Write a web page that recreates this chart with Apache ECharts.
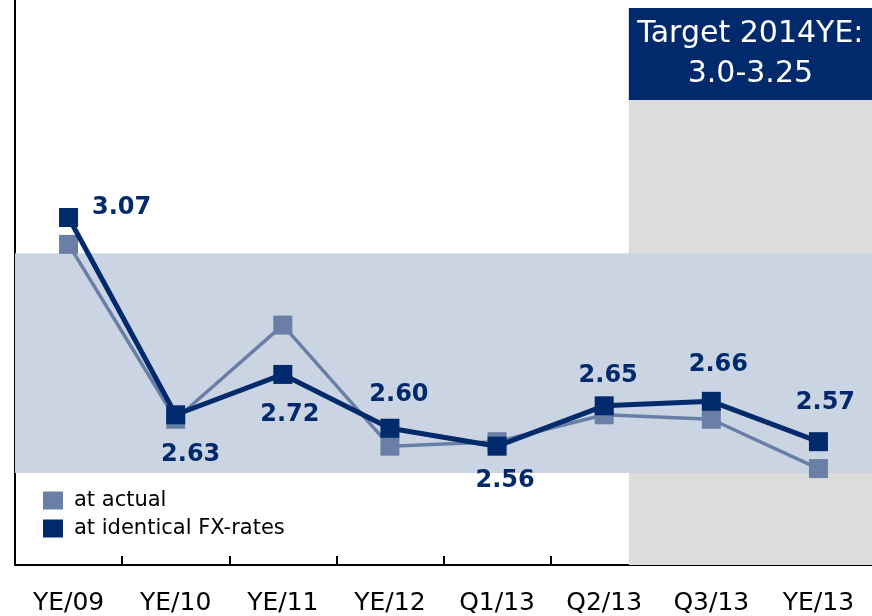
<!DOCTYPE html>
<html>
<head>
<meta charset="utf-8">
<script src="https://cdn.jsdelivr.net/npm/echarts@6/dist/echarts.min.js"></script>
<style>
  html, body { margin: 0; padding: 0; background: #fff; }
  #chart { width: 872px; height: 616px; }
</style>
</head>
<body>
<div id="chart"></div>
<script>
var categories = ['YE/09', 'YE/10', 'YE/11', 'YE/12', 'Q1/13', 'Q2/13', 'Q3/13', 'YE/13'];
var actualValues = [3.01, 2.62, 2.83, 2.56, 2.57, 2.63, 2.62, 2.51];
var fxValues = [3.07, 2.63, 2.72, 2.60, 2.56, 2.65, 2.66, 2.57];
var targetBand = [2.5, 2.99];
var targetText = 'Target 2014YE:\n3.0-3.25';

var DARK = '#002a6b';
var LIGHT = '#6a7fa6';
var FONT = 'DejaVu Sans';

// label placement per point, [dx, dy] from the marker centre
var labelOffsets = [[53, -10], [15, 40], [7, 40], [9, -33], [8, 35], [4, -30], [7, -37], [7, -39]];

var chart = echarts.init(document.getElementById('chart'));

var option = {
  animation: false,
  grid: { left: 15, right: 0, top: 0, bottom: 50 },
  legend: {
    orient: 'vertical',
    left: 38,
    top: 485,
    icon: 'rect',
    itemWidth: 20,
    itemHeight: 18,
    itemGap: 7,
    textStyle: { fontFamily: FONT, fontSize: 21, color: '#000', padding: [0, 0, 0, 6] },
    data: ['at actual', 'at identical FX-rates']
  },
  xAxis: [{
    type: 'category',
    data: categories,
    boundaryGap: true,
    axisLine: { lineStyle: { color: '#000', width: 2 } },
    axisTick: { show: true, inside: true, length: 9, interval: 0, lineStyle: { color: '#000', width: 2 } },
    axisLabel: { fontFamily: FONT, fontSize: 25, color: '#000', margin: 26, interval: 0 },
    splitLine: { show: false }
  }, {
    type: 'value',
    min: -0.5,
    max: 7.5,
    show: false
  }],
  yAxis: {
    type: 'value',
    min: 2.295,
    max: 3.555,
    axisLine: { show: true, onZero: false, lineStyle: { color: '#000', width: 2 } },
    axisTick: { show: false },
    axisLabel: { show: false },
    splitLine: { show: false }
  },
  series: [
    {
      type: 'line',
      xAxisIndex: 1,
      data: [],
      z: 1,
      silent: true,
      markArea: {
        silent: true,
        data: [
          [{ xAxis: 5.23, yAxis: 2.295, itemStyle: { color: '#dcdcdc' }, label: { show: false } },
           { xAxis: 7.5, yAxis: 3.332 }],
          [{ xAxis: 5.23, yAxis: 3.332, itemStyle: { color: DARK },
             label: { show: true, position: 'inside', formatter: targetText, color: '#fff',
                      fontFamily: FONT, fontSize: 30, lineHeight: 40 } },
           { xAxis: 7.5, yAxis: 3.537 }]
        ]
      }
    },
    {
      type: 'line',
      xAxisIndex: 1,
      data: [],
      z: 1,
      silent: true,
      markArea: {
        silent: true,
        itemStyle: { color: '#cbd4e2' },
        label: { show: false },
        data: [[{ xAxis: -0.5, yAxis: targetBand[0] }, { xAxis: 7.5, yAxis: targetBand[1] }]]
      }
    },
    {
      name: 'at actual',
      type: 'line',
      data: actualValues,
      symbol: 'rect',
      symbolSize: 19,
      z: 3,
      lineStyle: { color: LIGHT, width: 3.5 },
      itemStyle: { color: LIGHT },
      label: { show: false }
    },
    {
      name: 'at identical FX-rates',
      type: 'line',
      symbol: 'rect',
      symbolSize: 19,
      z: 4,
      lineStyle: { color: DARK, width: 5 },
      itemStyle: { color: DARK },
      data: fxValues.map(function (v, i) {
        return {
          value: v,
          label: {
            show: true,
            position: 'inside',
            offset: labelOffsets[i],
            formatter: function (p) { return p.value.toFixed(2); },
            color: DARK,
            fontFamily: FONT,
            fontWeight: 'bold',
            fontSize: 24
          }
        };
      })
    }
  ]
};

chart.setOption(option);
</script>
</body>
</html>
